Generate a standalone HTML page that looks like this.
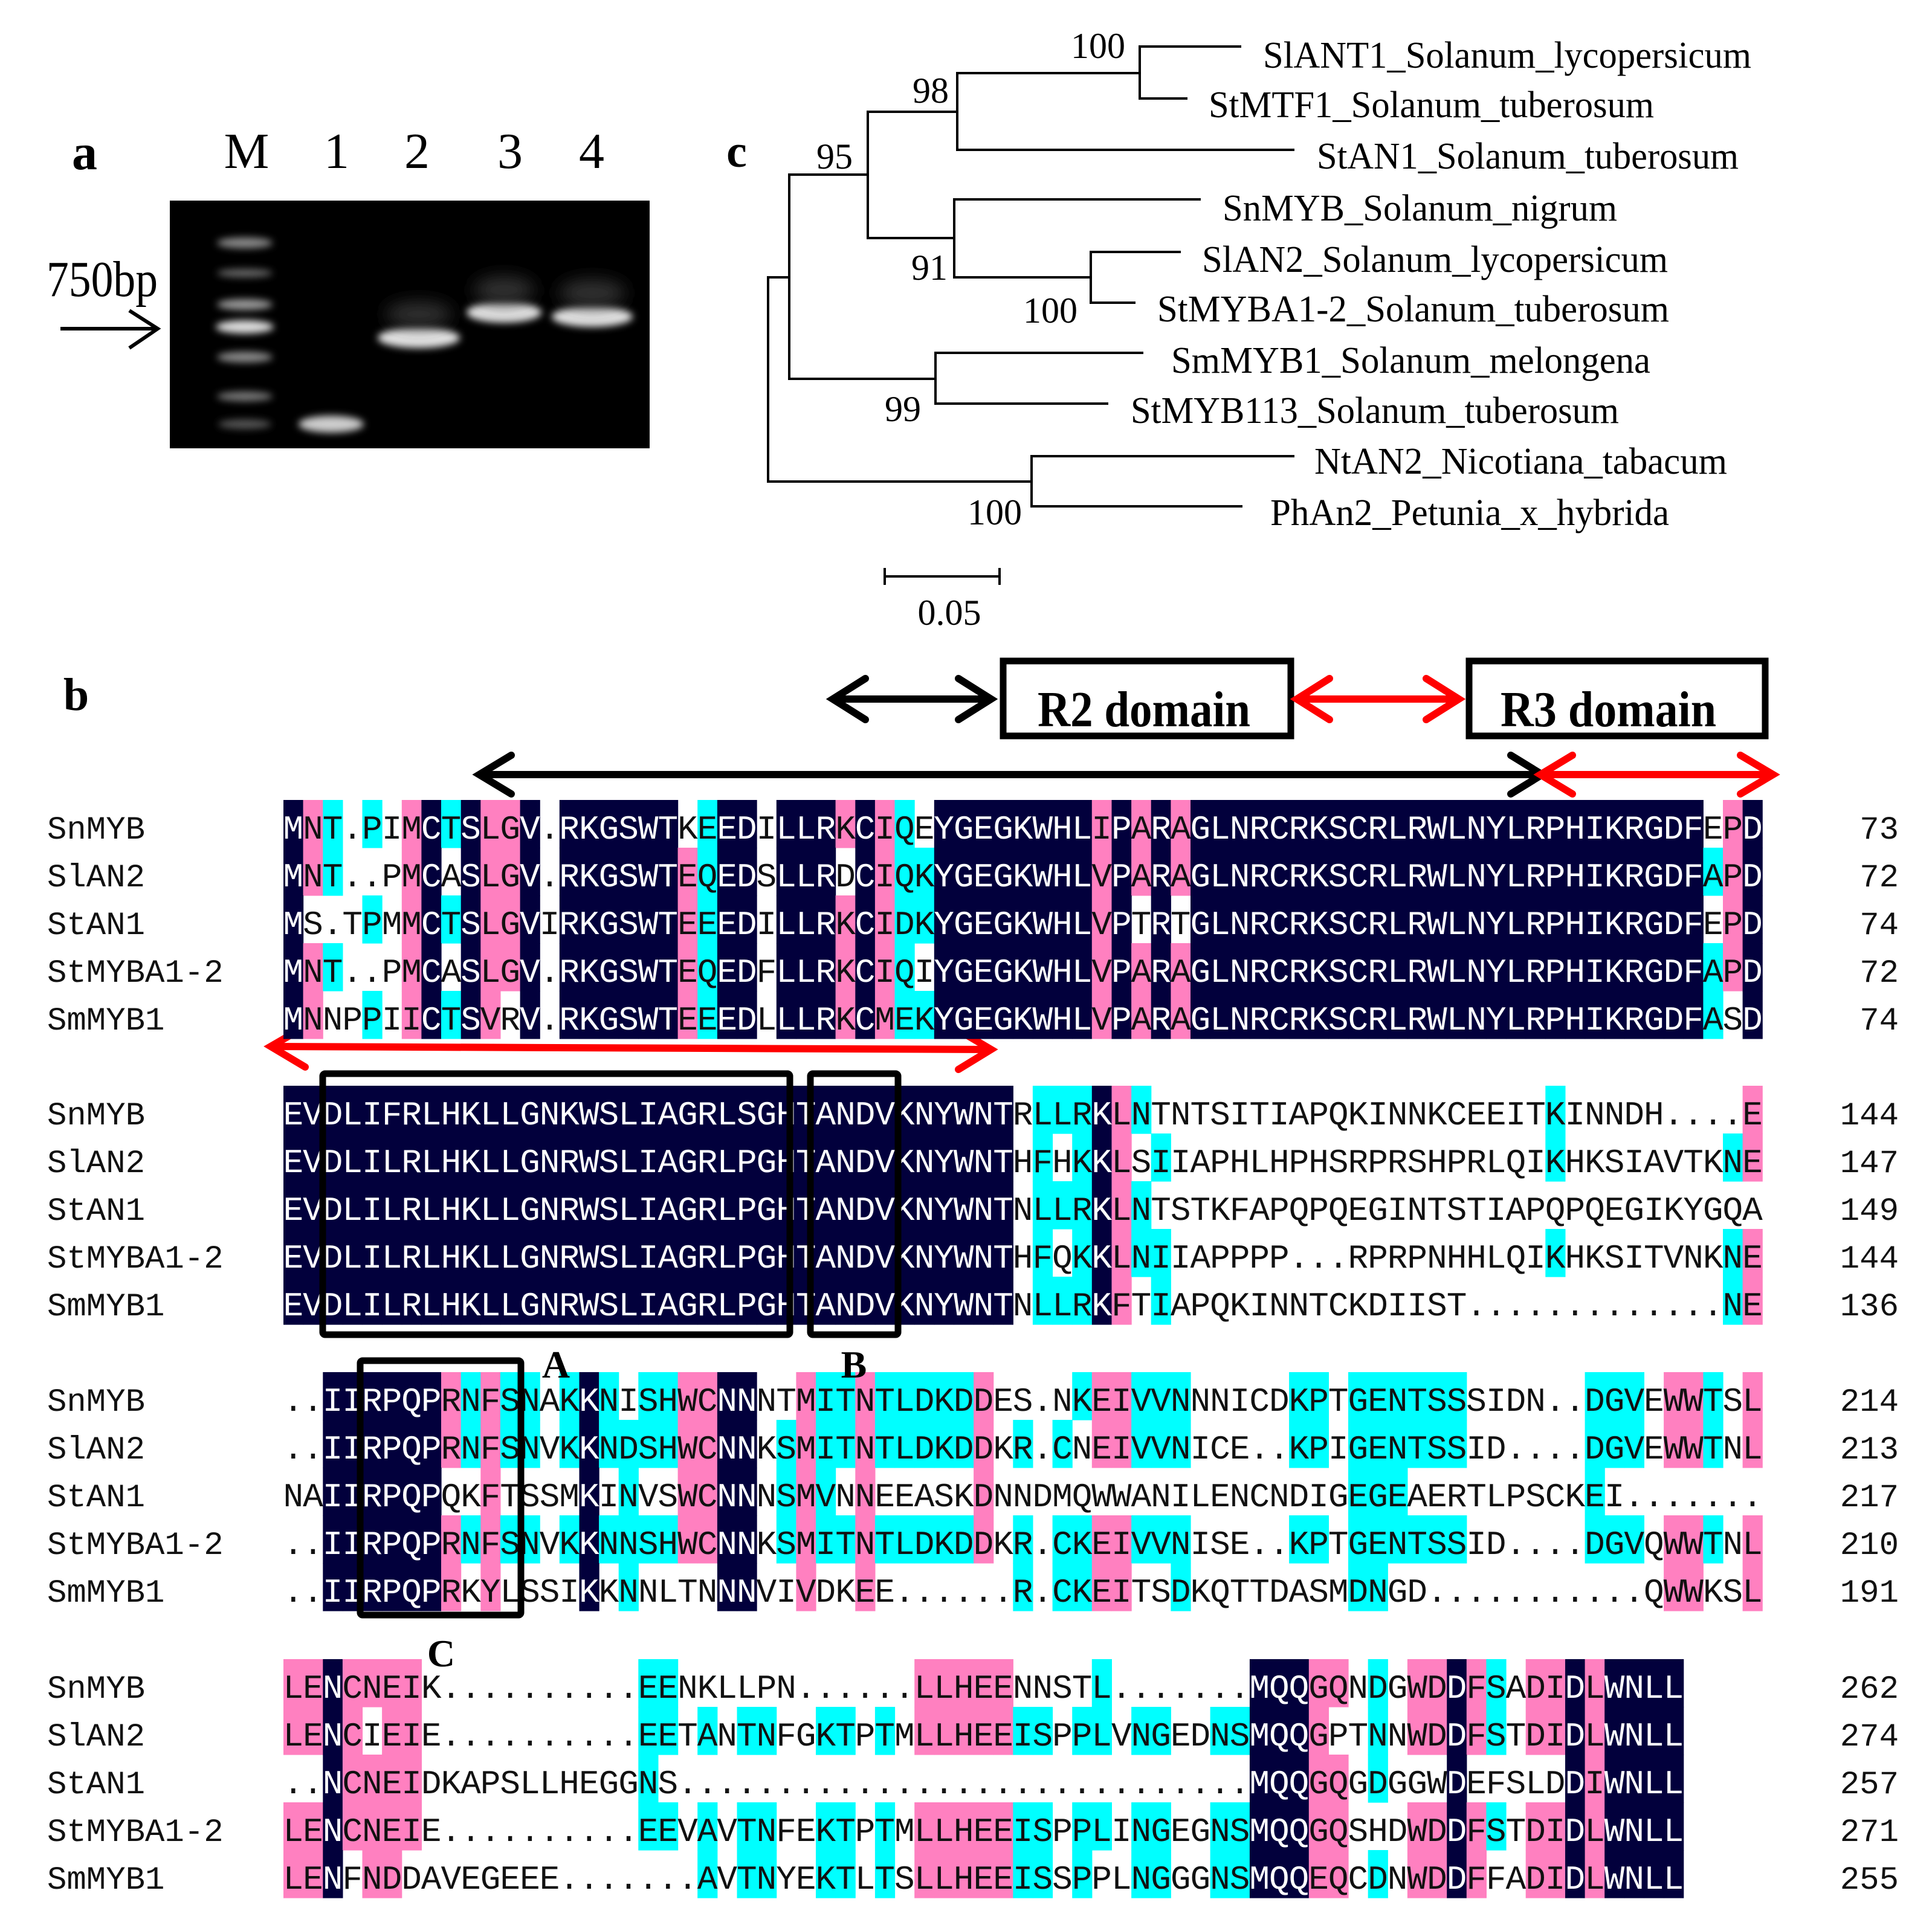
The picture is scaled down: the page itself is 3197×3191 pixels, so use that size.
<!DOCTYPE html>
<html><head><meta charset="utf-8">
<style>
html,body{margin:0;padding:0;background:#fff;}
svg{display:block;}
.ser{font-family:"Liberation Serif",serif;}
.mono{font-family:"Liberation Mono",monospace;}
</style></head>
<body>
<svg id="fig" xmlns="http://www.w3.org/2000/svg" width="3197" height="3191" viewBox="0 0 3197 3191">
<defs>
<filter id="bl" x="-30%" y="-100%" width="160%" height="300%"><feGaussianBlur stdDeviation="6"/></filter>
<filter id="bl2" x="-30%" y="-100%" width="160%" height="300%"><feGaussianBlur stdDeviation="14"/></filter>
</defs>
<rect width="3197" height="3191" fill="#fff"/>

<!-- Panel a -->
<text class="ser" x="140" y="280" font-size="84" font-weight="bold" text-anchor="middle">a</text>
<g class="ser" font-size="84" text-anchor="middle">
<text x="408" y="278">M</text><text x="557" y="278">1</text><text x="690" y="278">2</text><text x="844" y="278">3</text><text x="979" y="278">4</text>
</g>
<text class="ser" x="77" y="490" font-size="84" textLength="184" lengthAdjust="spacingAndGlyphs">750bp</text>
<line x1="100" y1="544" x2="258" y2="544" stroke="#000" stroke-width="6"/>
<polyline points="214,514 261,544 214,576" fill="none" stroke="#000" stroke-width="6"/>
<rect x="281" y="332" width="794" height="410" fill="#000"/>
<g fill="#bbb" filter="url(#bl)">
<ellipse cx="405" cy="402" rx="46" ry="9" fill="#888"/>
<ellipse cx="405" cy="452" rx="46" ry="7" fill="#666"/>
<ellipse cx="405" cy="504" rx="46" ry="9" fill="#999"/>
<ellipse cx="405" cy="541" rx="48" ry="11" fill="#ddd"/>
<ellipse cx="405" cy="591" rx="46" ry="9" fill="#888"/>
<ellipse cx="405" cy="656" rx="46" ry="8" fill="#777"/>
<ellipse cx="405" cy="702" rx="44" ry="8" fill="#555"/>
<ellipse cx="548" cy="702" rx="54" ry="14" fill="#ccc"/>
<ellipse cx="693" cy="559" rx="68" ry="17" fill="#e4e4e4"/>
<ellipse cx="834" cy="517" rx="62" ry="17" fill="#e4e4e4"/>
<ellipse cx="980" cy="524" rx="67" ry="17" fill="#e4e4e4"/>
</g>
<g filter="url(#bl2)" fill="#333">
<ellipse cx="693" cy="520" rx="55" ry="20"/>
<ellipse cx="834" cy="480" rx="50" ry="22"/>
<ellipse cx="980" cy="485" rx="55" ry="22"/>
</g>

<!-- Panel c: tree -->
<text class="ser" x="1219" y="276" font-size="76" font-weight="bold" text-anchor="middle">c</text>
<g stroke="#000" stroke-width="4" fill="none">
<path d="M1306,459 H1271 V797 H1707"/>
<path d="M1436,289 H1306 V627 H1548"/>
<path d="M1584,185 H1436 V394 H1579"/>
<path d="M1886,121 H1584 V248 H2142"/>
<path d="M2054,77 H1886 V163 H1965"/>
<path d="M1987,330 H1579 V459 H1805"/>
<path d="M1954,417 H1805 V501 H1879"/>
<path d="M1892,584 H1548 V668 H1834"/>
<path d="M2142,755 H1707 V838 H2056"/>
<path d="M1464,954 H1654 M1464,940 V968 M1654,940 V968"/>
</g>
<g class="ser" font-size="62">
<text x="2090" y="112" textLength="808" lengthAdjust="spacingAndGlyphs">SlANT1_Solanum_lycopersicum</text>
<text x="2000" y="194" textLength="737" lengthAdjust="spacingAndGlyphs">StMTF1_Solanum_tuberosum</text>
<text x="2179" y="279" textLength="698" lengthAdjust="spacingAndGlyphs">StAN1_Solanum_tuberosum</text>
<text x="2023" y="365" textLength="653" lengthAdjust="spacingAndGlyphs">SnMYB_Solanum_nigrum</text>
<text x="1989" y="450" textLength="771" lengthAdjust="spacingAndGlyphs">SlAN2_Solanum_lycopersicum</text>
<text x="1915" y="532" textLength="847" lengthAdjust="spacingAndGlyphs">StMYBA1-2_Solanum_tuberosum</text>
<text x="1938" y="617" textLength="793" lengthAdjust="spacingAndGlyphs">SmMYB1_Solanum_melongena</text>
<text x="1871" y="700" textLength="808" lengthAdjust="spacingAndGlyphs">StMYB113_Solanum_tuberosum</text>
<text x="2175" y="784" textLength="683" lengthAdjust="spacingAndGlyphs">NtAN2_Nicotiana_tabacum</text>
<text x="2102" y="869" textLength="660" lengthAdjust="spacingAndGlyphs">PhAn2_Petunia_x_hybrida</text>
</g>
<g class="ser" font-size="60" text-anchor="middle">
<text x="1817" y="96">100</text>
<text x="1540" y="170">98</text>
<text x="1381" y="279">95</text>
<text x="1538" y="463">91</text>
<text x="1738" y="534">100</text>
<text x="1494" y="697">99</text>
<text x="1646" y="868">100</text>
<text x="1571" y="1034">0.05</text>
</g>

<!-- Panel b header -->
<text class="ser" x="126" y="1175" font-size="76" font-weight="bold" text-anchor="middle">b</text>
<rect x="1660" y="1094" width="476" height="124" fill="none" stroke="#000" stroke-width="11"/>
<rect x="2431" y="1094" width="490" height="124" fill="none" stroke="#000" stroke-width="11"/>
<text class="ser" x="1717" y="1202" font-size="84" font-weight="bold" textLength="352" lengthAdjust="spacingAndGlyphs">R2 domain</text>
<text class="ser" x="2483" y="1202" font-size="84" font-weight="bold" textLength="357" lengthAdjust="spacingAndGlyphs">R3 domain</text>
<g fill="none" stroke-width="12" stroke-linecap="round" stroke-linejoin="miter">
<g stroke="#000">
<line x1="1380" y1="1157" x2="1636" y2="1157"/>
<polyline points="1432,1123 1378,1157 1432,1191"/>
<polyline points="1586,1123 1640,1157 1586,1191"/>
<line x1="795" y1="1282" x2="2548" y2="1282"/>
<polyline points="846,1250 793,1282 846,1314"/>
<polyline points="2500,1250 2552,1282 2500,1314"/>
</g>
<g stroke="#f00">
<line x1="2148" y1="1157" x2="2410" y2="1157"/>
<polyline points="2200,1123 2146,1157 2200,1191"/>
<polyline points="2360,1123 2414,1157 2360,1191"/>
<line x1="2552" y1="1282" x2="2930" y2="1282"/>
<polyline points="2602,1250 2549,1282 2602,1314"/>
<polyline points="2880,1250 2934,1282 2880,1314"/>
<line x1="452" y1="1732" x2="1636" y2="1737"/>
<polyline points="505,1699 448,1732 505,1766"/>
<polyline points="1586,1705 1640,1737 1586,1770"/>
</g>
</g>

<g id="cells"></g>

<!-- Names -->
<g class="mono" font-size="54" fill="#111">
<text x="78" y="1388">SnMYB</text><text x="78" y="1467">SlAN2</text><text x="78" y="1546">StAN1</text><text x="78" y="1625">StMYBA1-2</text><text x="78" y="1704">SmMYB1</text>
<text x="78" y="1861">SnMYB</text><text x="78" y="1940">SlAN2</text><text x="78" y="2019">StAN1</text><text x="78" y="2098">StMYBA1-2</text><text x="78" y="2177">SmMYB1</text>
<text x="78" y="2335">SnMYB</text><text x="78" y="2414">SlAN2</text><text x="78" y="2493">StAN1</text><text x="78" y="2572">StMYBA1-2</text><text x="78" y="2651">SmMYB1</text>
<text x="78" y="2810">SnMYB</text><text x="78" y="2889">SlAN2</text><text x="78" y="2968">StAN1</text><text x="78" y="3047">StMYBA1-2</text><text x="78" y="3126">SmMYB1</text>
</g>
<g class="mono" font-size="54" fill="#111" text-anchor="end">
<text x="3142" y="1388">73</text><text x="3142" y="1467">72</text><text x="3142" y="1546">74</text><text x="3142" y="1625">72</text><text x="3142" y="1704">74</text>
<text x="3142" y="1861">144</text><text x="3142" y="1940">147</text><text x="3142" y="2019">149</text><text x="3142" y="2098">144</text><text x="3142" y="2177">136</text>
<text x="3142" y="2335">214</text><text x="3142" y="2414">213</text><text x="3142" y="2493">217</text><text x="3142" y="2572">210</text><text x="3142" y="2651">191</text>
<text x="3142" y="2810">262</text><text x="3142" y="2889">274</text><text x="3142" y="2968">257</text><text x="3142" y="3047">271</text><text x="3142" y="3126">255</text>
</g>

<!-- Sequences -->
<g class="mono" font-size="56" fill="#111" id="seqs">
<text class="seq" id="s0_0" x="469" y="1388" textLength="2447" lengthAdjust="spacingAndGlyphs">MNT.PIMCTSLGV.RKGSWTKEEDILLRKCIQEYGEGKWHLIPARAGLNRCRKSCRLRWLNYLRPHIKRGDFEPD</text>
<text class="seq" id="s0_1" x="469" y="1467" textLength="2447" lengthAdjust="spacingAndGlyphs">MNT..PMCASLGV.RKGSWTEQEDSLLRDCIQKYGEGKWHLVPARAGLNRCRKSCRLRWLNYLRPHIKRGDFAPD</text>
<text class="seq" id="s0_2" x="469" y="1546" textLength="2447" lengthAdjust="spacingAndGlyphs">MS.TPMMCTSLGVIRKGSWTEEEDILLRKCIDKYGEGKWHLVPTRTGLNRCRKSCRLRWLNYLRPHIKRGDFEPD</text>
<text class="seq" id="s0_3" x="469" y="1625" textLength="2447" lengthAdjust="spacingAndGlyphs">MNT..PMCASLGV.RKGSWTEQEDFLLRKCIQIYGEGKWHLVPARAGLNRCRKSCRLRWLNYLRPHIKRGDFAPD</text>
<text class="seq" id="s0_4" x="469" y="1704" textLength="2447" lengthAdjust="spacingAndGlyphs">MNNPPIICTSVRV.RKGSWTEEEDLLLRKCMEKYGEGKWHLVPARAGLNRCRKSCRLRWLNYLRPHIKRGDFASD</text>

<text class="seq" id="s1_0" x="469" y="1861" textLength="2447" lengthAdjust="spacingAndGlyphs">EVDLIFRLHKLLGNKWSLIAGRLSGHTANDVKNYWNTRLLRKLNTNTSITIAPQKINNKCEEITKINNDH....E</text>
<text class="seq" id="s1_1" x="469" y="1940" textLength="2447" lengthAdjust="spacingAndGlyphs">EVDLILRLHKLLGNRWSLIAGRLPGHTANDVKNYWNTHFHKKLSIIAPHLHPHSRPRSHPRLQIKHKSIAVTKNE</text>
<text class="seq" id="s1_2" x="469" y="2019" textLength="2447" lengthAdjust="spacingAndGlyphs">EVDLILRLHKLLGNRWSLIAGRLPGHTANDVKNYWNTNLLRKLNTSTKFAPQPQEGINTSTIAPQPQEGIKYGQA</text>
<text class="seq" id="s1_3" x="469" y="2098" textLength="2447" lengthAdjust="spacingAndGlyphs">EVDLILRLHKLLGNRWSLIAGRLPGHTANDVKNYWNTHFQKKLNIIAPPPP...RPRPNHHLQIKHKSITVNKNE</text>
<text class="seq" id="s1_4" x="469" y="2177" textLength="2447" lengthAdjust="spacingAndGlyphs">EVDLILRLHKLLGNRWSLIAGRLPGHTANDVKNYWNTNLLRKFTIAPQKINNTCKDIIST.............NE</text>

<text class="seq" id="s2_0" x="469" y="2335" textLength="2447" lengthAdjust="spacingAndGlyphs">..IIRPQPRNFSNAKKNISHWCNNNTMITNTLDKDDES.NKEIVVNNNICDKPTGENTSSSIDN..DGVEWWTSL</text>
<text class="seq" id="s2_1" x="469" y="2414" textLength="2447" lengthAdjust="spacingAndGlyphs">..IIRPQPRNFSNVKKNDSHWCNNKSMITNTLDKDDKR.CNEIVVNICE..KPIGENTSSID....DGVEWWTNL</text>
<text class="seq" id="s2_2" x="469" y="2493" textLength="2447" lengthAdjust="spacingAndGlyphs">NAIIRPQPQKFTSSMKINVSWCNNNSMVNNEEASKDNNDMQWWANILENCNDIGEGEAERTLPSCKEI.......</text>
<text class="seq" id="s2_3" x="469" y="2572" textLength="2447" lengthAdjust="spacingAndGlyphs">..IIRPQPRNFSNVKKNNSHWCNNKSMITNTLDKDDKR.CKEIVVNISE..KPTGENTSSID....DGVQWWTNL</text>
<text class="seq" id="s2_4" x="469" y="2651" textLength="2447" lengthAdjust="spacingAndGlyphs">..IIRPQPRKYLSSIKKNNLTNNNVIVDKEE......R.CKEITSDKQTTDASMDNGD...........QWWKSL</text>

<text class="seq" id="s3_0" x="469" y="2810" textLength="2317" lengthAdjust="spacingAndGlyphs">LENCNEIK..........EENKLLPN......LLHEENNSTL.......MQQGQNDGWDDFSADIDLWNLL</text>
<text class="seq" id="s3_1" x="469" y="2889" textLength="2317" lengthAdjust="spacingAndGlyphs">LENCIEIE..........EETANTNFGKTPTMLLHEEISPPLVNGEDNSMQQGPTNNWDDFSTDIDLWNLL</text>
<text class="seq" id="s3_2" x="469" y="2968" textLength="2317" lengthAdjust="spacingAndGlyphs">..NCNEIDKAPSLLHEGGNS.............................MQQGQGDGGWDEFSLDDIWNLL</text>
<text class="seq" id="s3_3" x="469" y="3047" textLength="2317" lengthAdjust="spacingAndGlyphs">LENCNEIE..........EEVAVTNFEKTPTMLLHEEISPPLINGEGNSMQQGQSHDWDDFSTDIDLWNLL</text>
<text class="seq" id="s3_4" x="469" y="3126" textLength="2317" lengthAdjust="spacingAndGlyphs">LENFNDDAVEGEEE.......AVTNYEKTLTSLLHEEISSPPLNGGGNSMQQEQCDNWDDFFADIDLWNLL</text>
</g>

<!-- Boxes and letters -->
<g fill="none" stroke="#000" stroke-width="11">
<rect x="534" y="1777" width="773" height="432" rx="4"/>
<rect x="1341" y="1777" width="145" height="432" rx="4"/>
<rect x="596" y="2252" width="266" height="421" rx="4"/>
</g>
<g class="ser" font-size="64" font-weight="bold" text-anchor="middle">
<text x="920" y="2280">A</text>
<text x="1413" y="2280">B</text>
<text x="730" y="2758">C</text>
</g>
</svg>
<script>
(function(){
var X0=469,CW=32.63,RH=79;
var TOPS=[1324,1797,2271,2746];
var LENS=[75,75,75,71];
var COL={N:'#02003c',P:'#ff80c0',C:'#00ffff'};
function rep(s){return s.length==1?s+s+s+s+s:s;}
var SPEC=[
 ['N',{'1':'PPWPP','2':'CCWCW','3':'W','4':'CWCWC','5':'W','6':'P','8':'CWCWC','10':'P','11':'PPPPW','13':'W','20':'WPPPP','21':'C','24':'W','28':'PWPPP','30':'P','31':'C','32':'WCCWC','41':'P','43':'PPWPP','45':'PPWPP','72':'WCWCC','73':'PPPPW'}],
 ['W',{'0-36':'N','5':'P','14':'P','23':'WPPPP','38':'C','39':'CWCWC','40':'C','41':'N','42':'P','43':'CWCCW','44':'WCWCC','64':'CCWCW','73':'WCWCC','74':'PPWPP'}],
 ['W',{'2-7':'N','8':'PPWPP','9':'CCWCW','10':'P','11':'CCWCW','12':'CCWCW','14':'CCWCW','15':'N','16':'CCWCW','17':'WCCCC','18-19':'CCWCW','20-21':'PPPPW','22-23':'N','25':'WCCCW','26':'P','27':'CCCCW','28':'CCWCW','29':'P','30-34':'CCWCW','35':'PPPPW','37':'WCWCC','39':'WCWCC','40':'CWWCC','41-42':'PPWPP','43-44':'CCWCW','45':'CCWCC','51-52':'CCWCW','54-55':'C','56':'CCCCW','57-59':'CCWCW','66':'CCCCW','67-68':'CCWCW','70-71':'PPWPP','72':'CCWCW','74':'PPWPP'}],
 ['W',{'0-1':'PPWPP','2':'N','3':'PPPPW','4':'PWPPP','5':'P','6':'PPPPW','18':'CCCCW','19':'CCWCW','21':'WCWCC','23-24':'WCWCC','27-28':'WCWCC','30':'WCWCC','32-36':'PPWPP','37-38':'WCWCC','40':'WCWCC','41':'CCWCW','43-44':'WCWCC','47-48':'WCWCC','49-51':'N','52':'P','53':'PWPPP','55':'CCCWC','57-58':'PPWPP','59':'N','60':'PPWPP','61':'CCWCW','63-64':'PPWPP','65':'N','66':'P','67-70':'N'}]
];
var NS='http://www.w3.org/2000/svg';
var cells=document.getElementById('cells');
for(var b=0;b<4;b++){
  var cols=[];for(var i=0;i<LENS[b];i++)cols.push(rep(SPEC[b][0]));
  var ov=SPEC[b][1];
  for(var k in ov){var p=k.split('-');var a=+p[0],e=p.length>1?+p[1]:a;for(var j=a;j<=e;j++)cols[j]=rep(ov[k]);}
  for(var r=0;r<5;r++){
    var y=TOPS[b]+RH*r;
    for(var c=0;c<LENS[b];c++){
      var t=cols[c][r];
      if(t!=='W'){var rc=document.createElementNS(NS,'rect');rc.setAttribute('x',(X0+CW*c).toFixed(1));rc.setAttribute('y',y);rc.setAttribute('width',(CW+0.6).toFixed(1));rc.setAttribute('height',RH+0.6);rc.setAttribute('fill',COL[t]);cells.appendChild(rc);}
    }
    var el=document.getElementById('s'+b+'_'+r);
    var s=el.textContent;
    el.removeAttribute('textLength');el.removeAttribute('lengthAdjust');
    while(el.firstChild)el.removeChild(el.firstChild);
    el.setAttribute('text-anchor','middle');
    for(var c2=0;c2<s.length;c2++){
      var ts=document.createElementNS(NS,'tspan');
      ts.setAttribute('x',(X0+CW*c2+CW/2).toFixed(1));
      ts.setAttribute('fill',cols[c2]&&cols[c2][r]==='N'?'#fff':'#111');
      ts.textContent=s[c2];
      el.appendChild(ts);
    }
  }
}
})();
</script>
</body></html>
